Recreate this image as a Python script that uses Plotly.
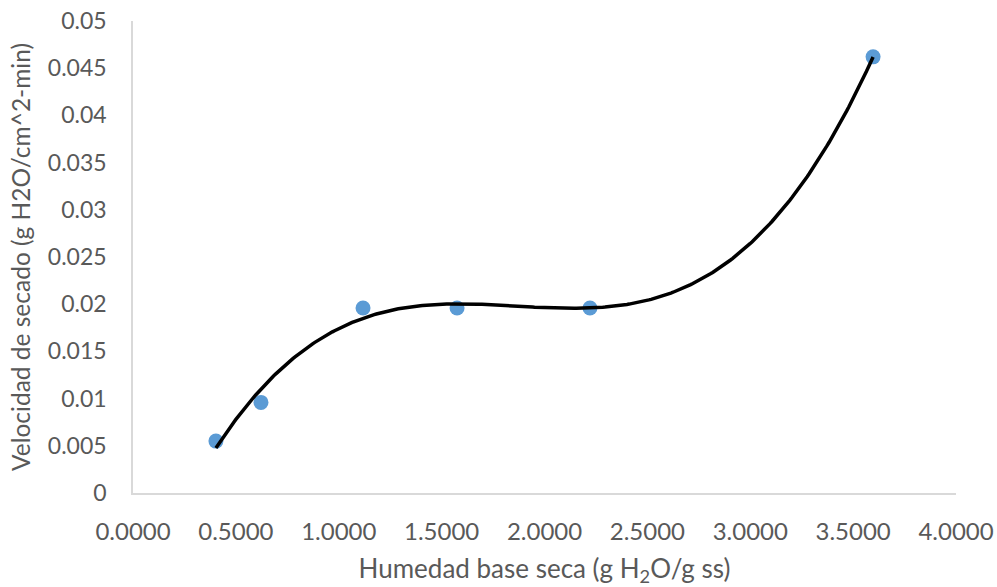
import numpy as np
import plotly.graph_objects as go

# Data
humedad = [0.403, 0.622, 1.118, 1.575, 2.221, 3.597]
velocidad = [0.0055, 0.0096, 0.0196, 0.0196, 0.0196, 0.0462]
x_ticks = [0, 0.5, 1.0, 1.5, 2.0, 2.5, 3.0, 3.5, 4.0]
y_ticks = [0, 0.005, 0.01, 0.015, 0.02, 0.025, 0.03, 0.035, 0.04, 0.045, 0.05]

# Polynomial (order 3) trendline, as in the original spreadsheet chart
coef = np.polyfit(humedad, velocidad, 3)
xs = np.linspace(min(humedad), max(humedad), 300)
ys = np.polyval(coef, xs)

fig = go.Figure()
fig.add_trace(go.Scatter(x=humedad, y=velocidad, mode="markers",
                         marker=dict(color="#5B9BD5", size=15), showlegend=False))
fig.add_trace(go.Scatter(x=xs, y=ys, mode="lines",
                         line=dict(color="black", width=3.5), showlegend=False))

font_family = "Lato, 'Open Sans', sans-serif"
fig.update_layout(
    width=997, height=587,
    margin=dict(l=133, r=41, t=21, b=94),
    paper_bgcolor="white", plot_bgcolor="white",
    font=dict(family=font_family, color="#595959", size=23),
    xaxis=dict(range=[0, 4], tickvals=x_ticks,
               ticktext=[f"{v:.4f}" for v in x_ticks],
               tickfont=dict(size=24),
               showgrid=False, zeroline=False, showline=True,
               linecolor="#D9D9D9", linewidth=1.5,
               ticks="outside", ticklen=16, tickcolor="rgba(0,0,0,0)",
               automargin=False,
               title=dict(text="Humedad base seca (g H<sub>2</sub>O/g ss)",
                          font=dict(size=26), standoff=19)),
    yaxis=dict(range=[0, 0.05], tickvals=y_ticks,
               ticktext=[f"{v:g}" for v in y_ticks],
               tickfont=dict(size=23),
               showgrid=False, zeroline=False, showline=True,
               linecolor="#D9D9D9", linewidth=1.5,
               ticks="outside", ticklen=20, tickcolor="rgba(0,0,0,0)",
               automargin=False,
               title=dict(text="Velocidad de secado (g H2O/cm^2-min)",
                          font=dict(size=24.5), standoff=10)),
)

fig.write_html("out.html",
               config={"displayModeBar": False},
               post_script="document.body.style.margin='0';document.body.style.overflow='hidden';")
